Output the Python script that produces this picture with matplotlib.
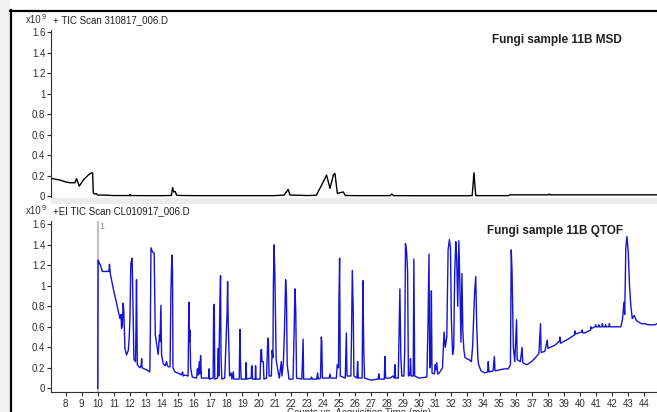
import matplotlib
matplotlib.use("Agg")
import matplotlib.pyplot as plt
from matplotlib.lines import Line2D
from matplotlib.patches import Rectangle

plt.rcParams['font.family'] = ['Liberation Sans', 'DejaVu Sans']

# MSD trace (top panel): time (min), counts (x1e9)
msd_time = [7.13, 7.65, 7.96, 8.27, 8.58, 8.68, 8.85, 9.10, 9.41, 9.62, 9.68,
            9.72, 9.80, 9.90, 10.00, 10.34, 11.0, 11.98, 12.0, 12.02, 13.0,
            14.0, 14.58, 14.66, 14.72, 14.82, 14.90, 15.01, 16.0, 17.0,
            18.0, 19.0, 20.0, 21.0, 21.6, 21.85, 21.96, 22.5, 23.0, 23.6,
            23.93, 24.24, 24.45, 24.66, 24.76, 24.91, 25.0, 25.28, 25.4,
            26.0, 27.0, 28.2, 28.3, 28.4, 29.0, 30.0, 31.0, 32.0, 33.0,
            33.3, 33.41, 33.52, 33.7, 34.5, 35.55, 35.65, 37.0, 38.05,
            38.1, 38.15, 39.0, 40.0, 41.0, 42.0, 43.0, 44.0, 44.8]
msd_counts = [0.172, 0.156, 0.14, 0.13, 0.13, 0.17, 0.097, 0.156, 0.205,
              0.227, 0.225, 0.03, 0.02, 0.025, 0.01, 0.01, 0.005, 0.005,
              0.016, 0.005, 0.004, 0.004, 0.006, 0.084, 0.04, 0.045, 0.01,
              0.006, 0.004, 0.004, 0.004, 0.004, 0.004, 0.004, 0.01, 0.065,
              0.01, 0.008, 0.005, 0.008, 0.107, 0.205, 0.075, 0.205, 0.22,
              0.025, 0.03, 0.04, 0.006, 0.004, 0.004, 0.004, 0.02, 0.004,
              0.004, 0.003, 0.003, 0.003, 0.003, 0.005, 0.227, 0.005, 0.004,
              0.004, 0.004, 0.012, 0.012, 0.012, 0.02, 0.012, 0.012, 0.012,
              0.012, 0.012, 0.012, 0.012, 0.012]

# QTOF trace (bottom panel)
qtof_time = [
    10.00, 10.02, 10.10, 10.17, 10.28, 10.69, 10.73, 10.78, 10.96, 11.17,
    11.38, 11.45, 11.48, 11.53, 11.58, 11.62, 11.69, 11.79, 11.90, 11.96,
    12.00, 12.06, 12.14, 12.19, 12.25, 12.35, 12.38, 12.41, 12.46, 12.62,
    12.70, 12.73, 12.76, 13.04, 13.24, 13.27, 13.31, 13.41, 13.51, 13.58,
    13.66, 13.76, 13.84, 13.87, 13.93, 13.97, 14.07, 14.20, 14.28, 14.34,
    14.39, 14.50, 14.55, 14.61, 14.65, 14.68, 14.80, 15.11, 15.20, 15.28,
    15.32, 15.42, 15.62, 15.67, 15.70, 15.73, 15.78, 15.88, 16.15, 16.20,
    16.25, 16.32, 16.36, 16.40, 16.45, 16.67, 16.90, 16.92, 16.95, 17.18,
    17.21, 17.25, 17.28, 17.45, 17.50, 17.53, 17.60, 17.64, 17.67, 17.72,
    17.90, 18.05, 18.08, 18.12, 18.15, 18.20, 18.30, 18.35, 18.43, 18.47,
    18.80, 18.85, 18.88, 18.92, 19.20, 19.23, 19.26, 19.55, 19.57, 19.60,
    19.63, 19.80, 19.82, 19.85, 20.10, 20.15, 20.19, 20.22, 20.30, 20.34,
    20.50, 20.58, 20.62, 20.66, 20.80, 20.85, 20.90, 20.93, 20.97, 21.02,
    21.10, 21.18, 21.30, 21.42, 21.46, 21.55, 21.62, 21.69, 21.74, 21.79,
    21.90, 22.15, 22.22, 22.27, 22.32, 22.37, 22.70, 22.78, 22.81, 23.25,
    23.30, 23.35, 23.62, 23.68, 23.72, 23.86, 23.91, 23.94, 23.98, 24.40,
    24.45, 24.50, 24.85, 24.90, 24.98, 25.01, 25.05, 25.09, 25.40, 25.44,
    25.47, 25.51, 25.75, 25.79, 25.84, 25.90, 25.94, 26.13, 26.17, 26.21,
    26.45, 26.50, 26.55, 26.60, 27.00, 27.45, 27.49, 27.53, 27.83, 27.87,
    27.91, 28.20, 28.35, 28.45, 28.49, 28.53, 28.70, 28.75, 28.80, 28.86,
    28.92, 29.05, 29.10, 29.15, 29.22, 29.28, 29.33, 29.42, 29.46, 29.50,
    29.63, 29.67, 29.72, 30.00, 30.48, 30.55, 30.61, 30.66, 30.72, 30.76,
    30.80, 30.95, 31.00, 31.04, 31.10, 31.15, 31.25, 31.45, 31.55, 31.62,
    31.72, 31.80, 31.88, 31.95, 32.00, 32.08, 32.15, 32.21, 32.28, 32.33,
    32.40, 32.47, 32.53, 32.60, 32.66, 32.72, 32.78, 32.85, 32.95, 33.10,
    33.25, 33.33, 33.45, 33.52, 33.58, 33.65, 33.70, 33.85, 34.09, 34.26,
    34.30, 34.34, 34.60, 34.68, 34.72, 35.02, 35.30, 35.54, 35.68, 35.73,
    35.78, 35.86, 35.95, 36.06, 36.10, 36.30, 36.40, 36.45, 36.70, 36.99,
    37.30, 37.45, 37.55, 37.59, 37.82, 37.97, 38.01, 38.44, 38.73, 38.76,
    38.80, 39.27, 39.66, 39.69, 39.72, 40.12, 40.15, 40.18, 40.31, 40.68,
    40.70, 40.73, 40.95, 40.98, 41.02, 41.14, 41.18, 41.21, 41.36, 41.40,
    41.43, 41.56, 41.60, 41.63, 41.80, 41.84, 41.87, 42.18, 42.55, 42.66,
    42.74, 42.79, 42.86, 42.93, 43.01, 43.09, 43.17, 43.26, 43.37, 43.53,
    43.84, 44.05, 44.25, 44.67, 44.79]
qtof_counts = [
    0.00, 1.25, 1.22, 1.20, 1.14, 1.14, 1.21, 1.12, 0.975, 0.83,
    0.68, 0.72, 0.585, 0.62, 0.83, 0.75, 0.39, 0.325, 0.37, 0.50,
    0.68, 1.22, 1.27, 0.80, 0.28, 0.26, 0.60, 1.06, 0.23, 0.20,
    0.22, 0.29, 0.20, 0.18, 0.16, 0.50, 1.37, 1.33, 1.32, 0.52,
    0.44, 0.33, 0.52, 0.455, 0.81, 0.33, 0.24, 0.22, 0.26, 0.22,
    0.21, 0.21, 0.94, 1.30, 1.15, 0.20, 0.16, 0.14, 0.13, 0.16,
    0.12, 0.13, 0.12, 0.84, 0.45, 0.57, 0.20, 0.11, 0.10, 0.19,
    0.13, 0.26, 0.14, 0.32, 0.10, 0.10, 0.10, 0.19, 0.09, 0.10,
    0.80, 0.82, 0.09, 0.10, 0.39, 0.12, 0.85, 1.10, 0.30, 0.09,
    0.10, 0.75, 1.04, 0.63, 0.47, 0.12, 0.15, 0.09, 0.16, 0.09,
    0.09, 0.575, 0.28, 0.09, 0.09, 0.25, 0.09, 0.10, 0.21, 0.22,
    0.09, 0.09, 0.22, 0.09, 0.09, 0.37, 0.38, 0.26, 0.26, 0.09,
    0.10, 0.49, 0.45, 0.12, 0.12, 0.37, 0.30, 1.02, 1.40, 1.12,
    0.28, 0.20, 0.10, 0.26, 0.12, 0.25, 0.57, 1.06, 0.91, 0.23,
    0.09, 0.09, 0.55, 0.97, 0.76, 0.10, 0.09, 0.48, 0.09, 0.09,
    0.11, 0.09, 0.09, 0.15, 0.09, 0.10, 0.50, 0.46, 0.10, 0.10,
    0.14, 0.10, 0.10, 0.23, 0.20, 0.89, 1.27, 0.12, 0.10, 0.37,
    0.54, 0.12, 0.12, 0.52, 1.15, 0.73, 0.12, 0.10, 0.26, 0.10,
    0.10, 1.05, 0.40, 0.10, 0.08, 0.09, 0.14, 0.09, 0.09, 0.31,
    0.10, 0.10, 0.12, 0.10, 0.23, 0.10, 0.10, 0.55, 0.97, 0.30,
    0.12, 0.12, 0.36, 1.41, 1.33, 1.14, 0.12, 0.13, 0.29, 0.12,
    0.12, 1.26, 0.12, 0.10, 0.11, 0.62, 1.31, 0.20, 0.25, 0.95,
    0.15, 0.14, 0.23, 0.18, 0.25, 0.14, 0.15, 0.20, 0.55, 0.40,
    0.50, 1.35, 1.45, 1.37, 0.70, 0.33, 0.39, 1.12, 1.43, 1.30,
    0.80, 1.44, 1.04, 0.45, 1.12, 0.55, 0.38, 0.30, 0.29, 0.28,
    0.26, 0.42, 0.94, 1.09, 0.62, 0.30, 0.23, 0.17, 0.15, 0.16,
    0.26, 0.16, 0.17, 0.31, 0.17, 0.18, 0.19, 0.19, 0.23, 1.35,
    1.14, 0.40, 0.26, 0.67, 0.28, 0.26, 0.40, 0.25, 0.23, 0.26,
    0.31, 0.34, 0.63, 0.35, 0.36, 0.47, 0.39, 0.42, 0.46, 0.50,
    0.44, 0.48, 0.52, 0.56, 0.53, 0.55, 0.57, 0.54, 0.54, 0.57,
    0.60, 0.585, 0.60, 0.62, 0.60, 0.60, 0.62, 0.60, 0.60, 0.63,
    0.60, 0.60, 0.62, 0.60, 0.60, 0.63, 0.60, 0.60, 0.60, 0.68,
    0.84, 0.72, 1.37, 1.48, 1.33, 1.00, 0.81, 0.68, 0.71, 0.66,
    0.63, 0.63, 0.62, 0.62, 0.63]

y_ticks = [0, 0.2, 0.4, 0.6, 0.8, 1.0, 1.2, 1.4, 1.6]
y_labels = ['0', '0.2', '0.4', '0.6', '0.8', '1', '1.2', '1.4', '1.6']
x_ticks = list(range(8, 45))
marker_time = 10.0

W, H = 657, 412
fig = plt.figure(figsize=(W / 100, H / 100), dpi=100)
fig.patch.set_facecolor('white')


def fx(px):
    return px / W


def fy(py):
    return 1 - py / H


# window frame: grey strip on the left, black border, grey band between panels
fig.patches.append(Rectangle((0, 0), fx(10), 1, transform=fig.transFigure,
                             facecolor='#f0f0f0', edgecolor='none', zorder=0))
fig.patches.append(Rectangle((fx(51), fy(204)), 1, fy(198.5) - fy(204),
                             transform=fig.transFigure, facecolor='#ececec',
                             edgecolor='none', zorder=0))
fig.lines.append(Line2D([fx(10.5), fx(10.5)], [0, fy(10)], transform=fig.transFigure,
                        color='black', lw=1.6))
fig.lines.append(Line2D([fx(10), 1], [fy(10.5), fy(10.5)], transform=fig.transFigure,
                        color='black', lw=1.6))

left = fx(51)
ax1 = fig.add_axes([left, fy(197.3), 1 - left, fy(30) - fy(197.3)])
ax2 = fig.add_axes([left, fy(391.7), 1 - left, fy(220.7) - fy(391.7)])

xlim = (7.09, 44.8)
ax1.plot(msd_time, msd_counts, color='black', lw=1.0)
ax2.plot(qtof_time, qtof_counts, color='#1414d2', lw=1.0)
ax2.axvline(marker_time, ymin=0, ymax=0.995, color='#c4c4c4', lw=1.6, zorder=1)
ax2.text(marker_time + 0.12, 1.62, '1', color='#909090', fontsize=6.5,
         va='top', ha='left')

ax1.set_ylim(-0.012, 1.62)
ax2.set_ylim(-0.033, 1.635)
for ax in (ax1, ax2):
    ax.set_xlim(*xlim)
    ax.set_facecolor('none')
    ax.spines['top'].set_visible(False)
    ax.spines['right'].set_visible(False)
    ax.spines['left'].set_color('#303030')
    ax.set_yticks(y_ticks)
    ax.set_yticklabels(y_labels)
    ax.tick_params(axis='y', length=3, width=0.8, color='#303030',
                   labelsize=7, labelcolor='#303030', pad=1)

ax1.spines['bottom'].set_visible(False)
ax1.set_xticks([])
ax2.spines['bottom'].set_color('#303030')
ax2.set_xticks(x_ticks)
ax2.set_xticklabels([str(t) for t in x_ticks])
ax2.tick_params(axis='x', length=3, width=0.8, color='#303030',
                labelsize=7, labelcolor='#303030', pad=2)

# scale and trace labels
for ypx, name in ((20, '+ TIC Scan 310817_006.D'), (211, '+EI TIC Scan CL010917_006.D')):
    fig.text(fx(26), fy(ypx), 'x10', fontsize=7, color='#303030', va='center')
    fig.text(fx(41.5), fy(ypx - 2.5), '9', fontsize=5, color='#303030', va='center')
    fig.text(fx(53), fy(ypx), name, fontsize=7, color='#202020', va='center')

fig.text(fx(492), fy(40), 'Fungi sample 11B MSD', fontsize=8.5,
         fontweight='bold', color='#202020', va='center')
fig.text(fx(487), fy(231), 'Fungi sample 11B QTOF', fontsize=8.5,
         fontweight='bold', color='#202020', va='center')
fig.text(fx(359), fy(413), 'Counts vs. Acquisition Time (min)', fontsize=7,
         color='#303030', ha='center', va='center')

fig.savefig('out.png', dpi=100)
